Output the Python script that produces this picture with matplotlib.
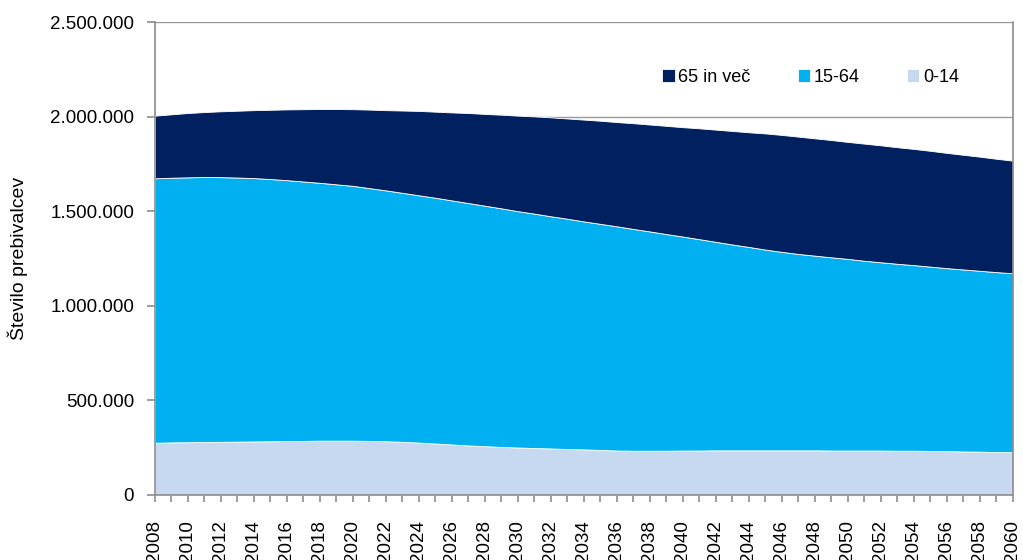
import matplotlib
matplotlib.use("Agg")
import matplotlib.pyplot as plt
from matplotlib.ticker import FuncFormatter, MultipleLocator

years = list(range(2008, 2061))

# thousands of inhabitants
age_0_14 = [276, 278, 279, 280, 281, 282, 283, 284, 285, 286, 287, 287, 287, 286, 284, 281,
            277, 272, 267, 262, 258, 254, 251, 248, 246, 243, 241, 238, 235, 234, 234, 234,
            235, 235, 236, 236, 236, 236, 236, 236, 236, 235, 235, 235, 235, 234, 234, 233,
            232, 230, 229, 227, 226]
age_15_64 = [1398, 1399, 1400, 1401, 1399, 1396, 1392, 1386, 1379, 1371, 1363, 1355, 1347,
             1336, 1326, 1316, 1307, 1299, 1290, 1281, 1271, 1261, 1249, 1239, 1227, 1217,
             1205, 1195, 1185, 1172, 1159, 1145, 1131, 1117, 1102, 1088, 1075, 1061, 1049,
             1038, 1029, 1021, 1013, 1003, 995, 988, 981, 974, 967, 962, 956, 951, 946]
age_65_plus = [331, 335, 340, 343, 348, 353, 359, 366, 374, 382, 390, 398, 405, 415, 424, 435,
               446, 455, 465, 476, 485, 495, 505, 514, 523, 530, 538, 545, 551, 559, 565, 572,
               578, 586, 593, 600, 606, 614, 618, 620, 620, 620, 618, 619, 618, 616, 614, 612,
               609, 606, 603, 599, 595]

series_labels = ["0-14", "15-64", "65 in več"]
colors = ["#C6D9F1", "#00B0F0", "#002060"]
y_label = "Število prebivalcev"

plt.rcParams['font.family'] = ['Liberation Sans', 'DejaVu Sans']

fig = plt.figure(figsize=(10.23, 5.6), dpi=100)
ax = fig.add_axes([0.1515, 0.1161, 0.8387, 0.8446])

vals = [[v * 1000 for v in s] for s in (age_0_14, age_15_64, age_65_plus)]
polys = ax.stackplot(years, *vals, colors=colors, labels=series_labels,
                     edgecolor="white", linewidth=0.6, zorder=2)

ax.set_xlim(2008, 2060)
ax.set_ylim(0, 2500000)
ax.yaxis.set_major_locator(MultipleLocator(500000))
ax.yaxis.set_major_formatter(FuncFormatter(lambda v, p: f"{int(v):,}".replace(",", ".")))
ax.xaxis.set_major_locator(MultipleLocator(2))
ax.xaxis.set_minor_locator(MultipleLocator(1))

ax.grid(axis="y", color="#999999", linewidth=1.0, zorder=0)
ax.set_axisbelow(True)

for side in ["left", "bottom", "right", "top"]:
    ax.spines[side].set_color("#8c8c8c")
    ax.spines[side].set_linewidth(1.2)
ax.spines["top"].set_visible(False)

ax.tick_params(axis="y", direction="out", length=6, width=1.2, color="#8c8c8c",
               labelsize=13.5, pad=9)
ax.tick_params(axis="x", which="both", direction="out", length=5, width=1.2,
               color="#8c8c8c", labelsize=13.5, pad=13, labelrotation=90)
for lab in ax.get_xticklabels():
    lab.set_verticalalignment("top")

ax.set_ylabel(y_label, fontsize=14, labelpad=16)

handles, labels = ax.get_legend_handles_labels()
leg = ax.legend(handles[::-1], labels[::-1], ncol=3, loc="upper right",
                bbox_to_anchor=(0.956, 0.936), frameon=False, fontsize=13,
                handlelength=0.7, handleheight=0.7, handletextpad=0.2,
                columnspacing=2.6)

fig.savefig("out.png", dpi=100)
